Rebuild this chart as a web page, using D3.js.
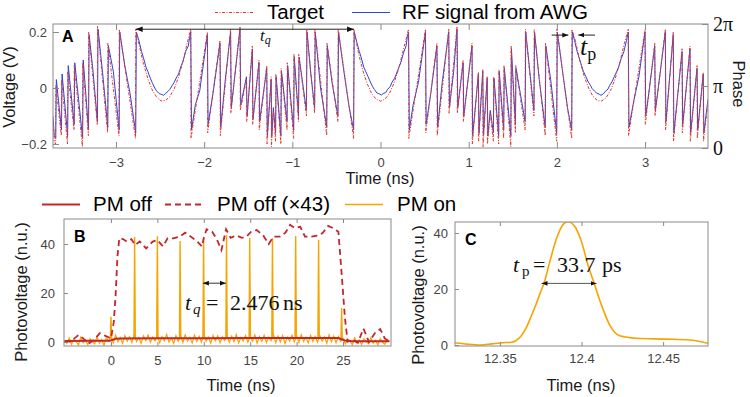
<!DOCTYPE html>
<html>
<head>
<meta charset="utf-8">
<script src="https://cdn.jsdelivr.net/npm/d3@7"></script>
<style>
  body { margin: 0; background: #fff; }
  svg { display: block; font-family: "Liberation Sans", Arial, sans-serif; }
</style>
</head>
<body>
<svg width="750" height="397"></svg>
<script>
// ================================
// Data
// ================================

// Panel A : target voltage (t in ns, V)
const targetPts = [
  [-3.714,-0.12],[-3.700,-0.19],
  [-3.685,-0.20],[-3.682,0.01],[-3.62,-0.17],[-3.617,0.03],[-3.55,-0.20],[-3.547,0.06],
  [-3.476,-0.15],[-3.473,0.08],[-3.38,-0.21],[-3.377,0.09],[-3.313,-0.17],[-3.310,0.20],
  [-3.212,-0.13],[-3.209,0.22],[-3.095,-0.16],[-3.092,0.16],[-2.966,-0.17],[-2.963,0.21],
  [-2.778,-0.18],[-2.775,0.21],
  [-2.74,0.157],[-2.69,0.089],[-2.64,0.035],[-2.59,-0.006],[-2.54,-0.032],[-2.49,-0.046],
  [-2.44,-0.045],[-2.39,-0.031],[-2.34,-0.003],[-2.29,0.039],[-2.24,0.094],[-2.19,0.163],
  [-2.152,0.21],[-2.149,-0.18],[-1.963,0.20],[-1.960,-0.16],[-1.82,0.17],[-1.817,-0.17],
  [-1.70,0.21],[-1.697,-0.09],[-1.593,0.22],[-1.590,-0.08],[-1.52,0.03],[-1.517,-0.12],
  [-1.453,0.15],[-1.450,-0.13],[-1.378,0.10],[-1.375,-0.15],[-1.29,0.08],[-1.287,-0.20],
  [-1.24,0.04],[-1.237,-0.21],[-1.215,-0.08],
  [-1.19,-0.19],[-1.187,0.05],[-1.13,-0.20],[-1.127,0.07],[-1.06,-0.15],[-1.057,0.09],
  [-0.985,-0.18],[-0.982,0.12],[-0.93,-0.12],[-0.927,0.12],[-0.84,-0.10],[-0.837,0.21],
  [-0.747,-0.09],[-0.744,0.21],[-0.61,-0.17],[-0.607,0.16],[-0.483,-0.12],[-0.480,0.21],
  [-0.305,-0.18],[-0.302,0.21],
  [-0.25,0.125],[-0.2,0.062],[-0.15,0.015],[-0.1,-0.02],[-0.05,-0.04],[0,-0.047],
  [0.05,-0.04],[0.1,-0.02],[0.15,0.015],[0.2,0.062],[0.25,0.125],
  [0.318,0.21],[0.321,-0.18],[0.51,0.21],[0.513,-0.16],[0.64,0.16],[0.643,-0.17],
  [0.774,0.21],[0.777,-0.09],[0.868,0.22],[0.871,-0.09],[0.937,0.10],[0.940,-0.12],
  [1.038,0.16],[1.041,-0.20],[1.11,0.055],[1.113,-0.19],[1.16,0.065],[1.163,-0.21],
  [1.21,0.04],[1.213,-0.20],[1.245,-0.09],
  [1.28,-0.19],[1.283,0.04],[1.34,-0.20],[1.343,0.065],[1.397,-0.18],[1.40,0.08],
  [1.478,-0.21],[1.481,0.15],[1.53,-0.16],[1.533,0.08],[1.64,-0.15],[1.643,0.21],
  [1.74,-0.10],[1.743,0.21],[1.868,-0.17],[1.871,0.16],[1.998,-0.19],[2.001,0.21],
  [2.168,-0.18],[2.171,0.21],
  [2.21,0.17],[2.26,0.098],[2.31,0.042],[2.36,0.0],[2.41,-0.03],[2.46,-0.045],
  [2.51,-0.046],[2.56,-0.034],[2.61,-0.008],[2.66,0.032],[2.71,0.086],[2.76,0.153],
  [2.81,0.21],[2.813,-0.17],[3.0,0.21],[3.003,-0.13],[3.11,0.16],[3.113,-0.10],
  [3.23,0.21],[3.233,-0.15],[3.32,0.20],[3.323,-0.19],[3.42,0.14],[3.423,-0.16],
  [3.51,0.15],[3.513,-0.19],[3.59,0.08],[3.593,-0.18],[3.66,0.055],[3.663,-0.19],
  [3.714,-0.05]
];

// Panel A : RF signal from AWG
const rfPts = [
  [-3.714,-0.10],[-3.700,-0.17],
  [-3.683,-0.18],[-3.676,0.03],[-3.618,-0.15],[-3.611,0.05],[-3.548,-0.17],[-3.541,0.08],
  [-3.474,-0.13],[-3.467,0.09],[-3.378,-0.18],[-3.371,0.10],[-3.311,-0.15],[-3.304,0.19],
  [-3.26,0.06],[-3.210,-0.12],[-3.203,0.21],[-3.15,0.05],[-3.093,-0.14],[-3.086,0.15],
  [-3.03,0.06],[-2.964,-0.15],[-2.957,0.20],[-2.90,0.08],[-2.84,-0.02],
  [-2.776,-0.16],[-2.769,0.20],
  [-2.74,0.17],[-2.71,0.13],[-2.69,0.11],[-2.66,0.075],[-2.64,0.06],[-2.61,0.035],
  [-2.59,0.02],[-2.56,0.0],[-2.54,-0.01],[-2.51,-0.02],[-2.49,-0.022],[-2.46,-0.026],
  [-2.44,-0.02],[-2.41,-0.012],[-2.39,-0.005],[-2.36,0.01],[-2.34,0.02],[-2.31,0.04],
  [-2.29,0.05],[-2.26,0.08],[-2.24,0.095],[-2.21,0.13],[-2.18,0.15],[-2.165,0.18],
  [-2.152,0.20],[-2.143,-0.15],[-2.10,-0.06],[-2.05,-0.01],
  [-1.963,0.19],[-1.955,-0.13],[-1.90,-0.02],[-1.82,0.16],[-1.812,-0.14],[-1.76,0.03],
  [-1.70,0.20],[-1.692,-0.07],[-1.65,0.05],[-1.593,0.21],[-1.585,-0.06],
  [-1.52,0.04],[-1.513,-0.10],[-1.453,0.14],[-1.446,-0.11],[-1.378,0.09],[-1.371,-0.12],
  [-1.29,0.07],[-1.283,-0.17],[-1.24,0.03],[-1.233,-0.17],[-1.215,-0.07],
  [-1.19,-0.16],[-1.183,0.04],[-1.13,-0.17],[-1.123,0.06],[-1.06,-0.12],[-1.053,0.08],
  [-0.985,-0.15],[-0.978,0.11],[-0.93,-0.10],[-0.923,0.11],
  [-0.84,-0.08],[-0.833,0.20],[-0.79,0.05],[-0.747,-0.07],[-0.740,0.20],[-0.68,0.0],
  [-0.61,-0.14],[-0.603,0.15],[-0.55,0.02],[-0.483,-0.10],[-0.476,0.20],[-0.42,0.07],
  [-0.36,-0.06],[-0.305,-0.15],[-0.298,0.20],
  [-0.27,0.165],[-0.24,0.13],[-0.22,0.11],[-0.19,0.075],[-0.17,0.06],[-0.14,0.04],
  [-0.12,0.025],[-0.09,0.005],[-0.07,-0.005],[-0.04,-0.018],[-0.02,-0.02],[0.01,-0.025],
  [0.03,-0.02],[0.06,-0.016],[0.08,-0.005],[0.11,0.005],[0.13,0.02],[0.16,0.035],
  [0.18,0.05],[0.21,0.075],[0.23,0.09],[0.26,0.125],[0.29,0.15],[0.305,0.185],
  [0.318,0.20],[0.327,-0.15],[0.37,-0.06],[0.43,0.02],
  [0.51,0.20],[0.518,-0.13],[0.57,-0.02],[0.64,0.15],[0.648,-0.14],[0.70,0.02],
  [0.774,0.20],[0.782,-0.07],[0.83,0.06],[0.868,0.21],[0.876,-0.07],
  [0.937,0.09],[0.944,-0.10],[1.038,0.15],[1.045,-0.17],[1.11,0.05],[1.117,-0.16],
  [1.16,0.06],[1.167,-0.17],[1.21,0.035],[1.217,-0.17],[1.245,-0.08],
  [1.28,-0.16],[1.287,0.035],[1.34,-0.17],[1.347,0.06],[1.397,-0.15],[1.404,0.07],
  [1.478,-0.17],[1.485,0.14],[1.53,-0.13],[1.537,0.07],
  [1.64,-0.12],[1.647,0.20],[1.70,0.04],[1.74,-0.08],[1.747,0.20],[1.80,0.03],
  [1.868,-0.14],[1.875,0.15],[1.93,0.03],[1.998,-0.16],[2.005,0.20],[2.06,0.07],
  [2.12,-0.07],[2.168,-0.15],[2.175,0.20],
  [2.20,0.17],[2.23,0.13],[2.25,0.11],[2.28,0.08],[2.30,0.06],[2.33,0.04],[2.35,0.025],
  [2.38,0.01],[2.40,-0.002],[2.43,-0.012],[2.45,-0.018],[2.48,-0.022],[2.50,-0.026],
  [2.53,-0.02],[2.55,-0.012],[2.58,-0.004],[2.60,0.01],[2.63,0.025],[2.65,0.04],
  [2.68,0.06],[2.70,0.075],[2.73,0.105],[2.76,0.13],[2.79,0.17],
  [2.81,0.20],[2.818,-0.14],[2.87,-0.05],[2.93,0.04],
  [3.0,0.20],[3.008,-0.10],[3.05,0.0],[3.11,0.15],[3.117,-0.08],[3.17,0.05],
  [3.23,0.20],[3.237,-0.12],[3.32,0.19],[3.327,-0.16],[3.42,0.13],[3.427,-0.13],
  [3.51,0.14],[3.517,-0.16],[3.59,0.07],[3.597,-0.15],[3.66,0.05],[3.667,-0.16],
  [3.714,-0.04]
];

const xTicksA = [-3, -2, -1, 0, 1, 2, 3];
const yTicksA = [-0.2, 0, 0.2];
const phaseTicks = [0, Math.PI, 2 * Math.PI];
const phaseLabels = ['0', 'π', '2π'];

// Panel B
const pmOffPts = [
  [-5,0.4],[-2,0.5],[-0.1,0.5],[0.5,1.3],[1,1.4],[5,1.5],[10,1.5],[15,1.6],
  [20,1.6],[24.5,1.6],[25.2,0.6],[26,0.3],[30,0.3]
];
const pmOffX43Pts = [
  [-5,0.3],[-4.4,0.2],[-3.7,2.2],[-3.5,2.9],[-3.0,1.5],[-2.4,-0.7],[-1.8,1.0],[-1.2,3.6],
  [-0.6,2.5],[0,1.5],[0.3,8],[0.5,19],[0.7,35],[0.9,42.3],[1.3,42.0],[1.7,41],[2.2,42],
  [2.6,39.6],[3.1,41],[3.8,38.2],[4.5,41],[5.0,41.6],[5.6,39],[6.1,42.3],[6.7,42.3],
  [7.4,43],[8.0,44.6],[8.6,43],[9.3,41],[9.8,39],[10.0,42.5],[10.3,46],[10.9,45],
  [11.4,42],[11.9,37.5],[12.4,46],[12.9,42.5],[13.5,43.5],[14.1,42.5],[14.6,43],
  [15.1,45],[15.7,45.7],[16.4,43.5],[17.0,40],[17.5,43],[18.2,43],[18.8,44.6],
  [19.3,47.8],[19.8,46.5],[20.4,47],[20.9,43],[21.6,43],[22.3,43.5],[22.8,44.5],
  [23.4,47.4],[23.9,46.5],[24.5,45],[24.85,28],[25.2,10],[25.5,0.1],[26,1],
  [26.6,-0.3],[27.2,5.5],[27.8,0],[28.5,4],[29,5.3],[29.5,1.5],[30,0]
];
const noiseStart = -5, noiseStep = 0.25;
const pmOnNoise = [
  0.8,-0.6,1.6,-0.9,1.2,0.1,-1.2,1.9,-0.3,0.9,-1.0,1.4,0.2,-0.8,2.1,-0.5,1.0,-1.3,1.7,0.4,
  2.4,-0.4,2.8,0.1,1.9,-0.6,2.6,0.3,2.2,-0.2,3.0,0.2,1.8,-0.5,2.5,0.6,2.9,-0.1,2.0,0.4,
  2.7,-0.3,2.2,0.5,3.1,0.0,1.7,-0.6,2.6,0.3,2.4,-0.2,2.9,0.4,1.9,-0.4,2.8,0.2,2.3,-0.1,
  3.2,0.3,2.0,-0.5,2.7,0.5,2.5,-0.3,2.1,0.6,2.8,-0.2,2.4,0.1,3.0,-0.4,1.8,0.4,2.6,-0.1,
  2.3,0.3,2.9,-0.5,2.2,0.2,2.7,-0.2,1.9,0.5,3.1,-0.3,2.4,0.1,2.6,-0.6,2.0,0.4,2.8,0.0,
  2.5,-0.2,3.0,0.3,1.9,-0.4,2.7,0.2,2.3,-0.1,2.6,0.4,2.1,-0.5,2.9,0.1,2.4,-0.3,2.2,0.3,
  1.5,-0.8,1.1,0.3,-1.1,1.7,-0.4,0.9,-1.0,1.3,0.2,-0.7,1.8,-0.5,0.8,-1.2,1.4,0.0,-0.9,1.1,0.3
];
const pulseTimes = [0, 2.55, 5.0, 7.45, 9.98, 12.45, 14.95, 17.4, 19.9, 22.37, 24.85];
const pulseHeights = [10.3, 42.9, 43.2, 41.2, 42.3, 43.6, 42.4, 42.3, 43.3, 41.7, 13.9];
const xTicksB = [0, 5, 10, 15, 20, 25];
const yTicksB = [0, 20, 40];

// Panel C
const pulseC = [
  [12.3225,0.8],[12.33,0.3],[12.338,0.0],[12.345,0.4],[12.352,0.8],[12.357,1.0],
  [12.360,1.6],[12.363,3.2],[12.366,6],[12.369,10],[12.372,14.3],[12.375,19],[12.377,22],
  [12.3806,29.8],[12.3847,38],[12.3888,43.1],[12.3918,44],[12.3959,42.3],[12.4,36.9],
  [12.404,28.6],[12.4081,21.4],[12.4122,14.3],[12.4173,7.1],[12.4234,3.3],[12.4337,2.4],
  [12.452,2.1],[12.4663,1.8],[12.4775,0.6]
];
const xTicksC = [12.35, 12.4, 12.45];
const yTicksC = [0, 20, 40];

const tq = 2.476;   // ns
const tp = 0.0337;  // ns

// ================================
// Setup
// ================================
const svg = d3.select('svg');
const boxColor = '#8a8a8a';
const tickText = '#444';
const red = '#e2382c', blue = '#2f44d4', darkRed = '#c4262b', orange = '#f6a400';
const serif = '"Liberation Serif", "Times New Roman", serif';

const defs = svg.append('defs');
defs.append('marker')
  .attr('id', 'ah')
  .attr('viewBox', '0 0 10 10')
  .attr('refX', 10).attr('refY', 5)
  .attr('markerWidth', 7).attr('markerHeight', 7)
  .attr('markerUnits', 'userSpaceOnUse')
  .attr('orient', 'auto-start-reverse')
  .append('path').attr('d', 'M0,1 L10,5 L0,9 z').attr('fill', '#111');
defs.append('marker')
  .attr('id', 'ahs')
  .attr('viewBox', '0 0 10 10')
  .attr('refX', 10).attr('refY', 5)
  .attr('markerWidth', 6).attr('markerHeight', 6)
  .attr('markerUnits', 'userSpaceOnUse')
  .attr('orient', 'auto-start-reverse')
  .append('path').attr('d', 'M0,1 L10,5 L0,9 z').attr('fill', '#111');

function clip(id, x, y) {
  defs.append('clipPath').attr('id', id)
    .append('rect')
    .attr('x', x.range()[0]).attr('y', y.range()[1])
    .attr('width', x.range()[1] - x.range()[0])
    .attr('height', y.range()[0] - y.range()[1]);
}

function styleAxis(g, size) {
  g.select('.domain').remove();
  g.selectAll('line').attr('stroke', boxColor);
  g.attr('font-family', null).attr('font-size', null);
  g.selectAll('text').attr('fill', tickText).style('font-size', size + 'px')
    .style('font-family', '"Liberation Sans", Arial, sans-serif');
}

function frame(x, y, xt, yt, tick, padX, padY, fmtX) {
  const [x0, x1] = x.range();
  const [y0, y1] = y.range();
  svg.append('g').attr('transform', `translate(0,${y0})`)
    .call(d3.axisBottom(x).tickValues(xt).tickSize(-tick).tickPadding(padX).tickFormat(fmtX || d3.format('')))
    .call(g => styleAxis(g, 13));
  svg.append('g').attr('transform', `translate(0,${y1})`)
    .call(d3.axisTop(x).tickValues(xt).tickSize(-tick).tickFormat(''))
    .call(g => styleAxis(g, 13));
  svg.append('g').attr('transform', `translate(${x0},0)`)
    .call(d3.axisLeft(y).tickValues(yt).tickSize(-tick).tickPadding(padY).tickFormat(d3.format('')))
    .call(g => styleAxis(g, 13));
  svg.append('rect')
    .attr('x', x0).attr('y', y1)
    .attr('width', x1 - x0).attr('height', y0 - y1)
    .attr('fill', 'none').attr('stroke', boxColor).attr('stroke-width', 1);
}

function label(text, x, y, opts = {}) {
  return svg.append('text')
    .attr('x', x).attr('y', y)
    .attr('text-anchor', opts.anchor || 'middle')
    .attr('transform', opts.rotate ? `rotate(${opts.rotate},${x},${y})` : null)
    .style('font-size', (opts.size || 16.5) + 'px')
    .style('font-weight', opts.bold ? 'bold' : null)
    .style('font-family', opts.family || null)
    .style('font-style', opts.italic ? 'italic' : null)
    .attr('fill', opts.fill || '#1a1a1a')
    .text(text);
}

// ================================
// Panel A
// ================================
const xA = d3.scaleLinear().domain([-1.5 * tq, 1.5 * tq]).range([53, 708]);
const yA = d3.scaleLinear().domain([-0.2143, 0.2286]).range([148, 24]);
const phA = d3.scaleLinear().domain([0, 2 * Math.PI]).range([148, 24]);
clip('clipA', xA, yA);

const lineA = d3.line().x(d => xA(d[0])).y(d => yA(d[1]));
const gA = svg.append('g').attr('clip-path', 'url(#clipA)');
gA.append('path').datum(rfPts).attr('d', lineA)
  .attr('fill', 'none').attr('stroke', blue).attr('stroke-width', 1);
gA.append('path').datum(targetPts).attr('d', lineA)
  .attr('fill', 'none').attr('stroke', red).attr('stroke-width', 1)
  .attr('stroke-dasharray', '3,1.5,1,1.5');

frame(xA, yA, xTicksA, yTicksA, 6, 10, 6);
svg.append('g').attr('transform', `translate(${xA.range()[1]},0)`)
  .call(d3.axisRight(phA).tickValues(phaseTicks).tickSize(-6).tickPadding(5)
    .tickFormat((d, i) => phaseLabels[i]))
  .call(g => styleAxis(g, 20))
  .call(g => g.selectAll('text').attr('fill', '#111').style('font-family', serif));

label('A', 62, 42, { anchor: 'start', size: 16, bold: true, fill: '#000' });
label('Time (ns)', 380, 184);
label('Voltage (V)', 15, 87, { rotate: -90 });
label('Phase', 733, 84, { rotate: 90 });

// t_q arrow
svg.append('line')
  .attr('x1', xA(-tq / 2 - 1.538)).attr('x2', xA(-tq / 2 + 0.938))
  .attr('y1', yA(0.21)).attr('y2', yA(0.21))
  .attr('stroke', '#222').attr('stroke-width', 1)
  .attr('marker-start', 'url(#ah)').attr('marker-end', 'url(#ah)');
const tqA = svg.append('text').attr('x', 260).attr('y', 41)
  .style('font-family', serif).style('font-size', '17px').attr('fill', '#111');
tqA.append('tspan').style('font-style', 'italic').text('t');
tqA.append('tspan').style('font-style', 'italic').style('font-size', '12px').attr('dy', 3).text('q');

// t_p arrows
svg.append('line')
  .attr('x1', xA(1.941)).attr('x2', xA(2.13)).attr('y1', yA(0.189)).attr('y2', yA(0.189))
  .attr('stroke', '#222').attr('marker-end', 'url(#ahs)');
svg.append('line')
  .attr('x1', xA(2.433)).attr('x2', xA(2.243)).attr('y1', yA(0.189)).attr('y2', yA(0.189))
  .attr('stroke', '#222').attr('marker-end', 'url(#ahs)');
const tpA = svg.append('text').attr('x', 580).attr('y', 55)
  .style('font-family', serif).style('font-size', '26px').attr('fill', '#111');
tpA.append('tspan').style('font-style', 'italic').text('t');
tpA.append('tspan').style('font-size', '18px').attr('dy', 5).text('p');

// legend A
svg.append('line').attr('x1', 215).attr('x2', 253).attr('y1', 12.5).attr('y2', 12.5)
  .attr('stroke', red).attr('stroke-width', 1).attr('stroke-dasharray', '3,1.5,1,1.5');
label('Target', 267, 18.5, { anchor: 'start', size: 20.5, fill: '#000' });
svg.append('line').attr('x1', 352).attr('x2', 390).attr('y1', 12.5).attr('y2', 12.5)
  .attr('stroke', blue).attr('stroke-width', 1);
label('RF signal from AWG', 402, 18.5, { anchor: 'start', size: 20.5, fill: '#000' });

// ================================
// Panel B
// ================================
const xB = d3.scaleLinear().domain([-5.06, 30.17]).range([64, 391]);
const yB = d3.scaleLinear().domain([-1.63, 50.2]).range([346, 219]);
clip('clipB', xB, yB);
const lineB = d3.line().x(d => xB(d[0])).y(d => yB(d[1]));
const gB = svg.append('g').attr('clip-path', 'url(#clipB)');

const noisePts = pmOnNoise.map((v, i) => [noiseStart + i * noiseStep, v]);
gB.append('path').datum(noisePts).attr('d', lineB)
  .attr('fill', 'none').attr('stroke', orange).attr('stroke-width', 1.2);
gB.selectAll('path.pulse')
  .data(pulseTimes.map((t, i) => [[t - 0.07, 1.2], [t, pulseHeights[i]], [t + 0.07, 1.2]]))
  .enter().append('path').attr('class', 'pulse')
  .attr('d', lineB).attr('fill', orange).attr('stroke', orange).attr('stroke-width', 1.4);
gB.append('path').datum(pmOffPts).attr('d', lineB)
  .attr('fill', 'none').attr('stroke', darkRed).attr('stroke-width', 2);
gB.append('path').datum(pmOffX43Pts).attr('d', lineB)
  .attr('fill', 'none').attr('stroke', darkRed).attr('stroke-width', 1.8)
  .attr('stroke-dasharray', '6,4');

frame(xB, yB, xTicksB, yTicksB, 4, 10, 9);
label('B', 74, 242, { anchor: 'start', size: 16, bold: true, fill: '#000' });
label('Time (ns)', 241, 391);
label('Photovoltage (n.u.)', 27, 292, { rotate: -90 });

svg.append('line')
  .attr('x1', xB(9.904)).attr('x2', xB(9.904 + tq)).attr('y1', yB(24)).attr('y2', yB(24))
  .attr('stroke', '#333').attr('stroke-width', 1)
  .attr('marker-start', 'url(#ahs)').attr('marker-end', 'url(#ahs)');

function mathText(parts) {
  parts.forEach(p => {
    svg.append('text').attr('x', p.x).attr('y', p.y)
      .style('font-family', serif).style('font-size', p.size + 'px')
      .style('font-style', p.italic ? 'italic' : null)
      .attr('fill', '#111').text(p.s);
  });
}
mathText([
  { s: 't', x: 185, y: 310, size: 22, italic: true },
  { s: 'q', x: 193, y: 314, size: 15, italic: true },
  { s: '=', x: 206, y: 310, size: 22 },
  { s: '2.476', x: 230, y: 310, size: 22 },
  { s: 'ns', x: 283, y: 310, size: 22 }
]);

// legend B
svg.append('line').attr('x1', 42).attr('x2', 80).attr('y1', 204.5).attr('y2', 204.5)
  .attr('stroke', darkRed).attr('stroke-width', 2);
label('PM off', 93, 210.5, { anchor: 'start', size: 20.5, fill: '#000' });
svg.append('line').attr('x1', 165).attr('x2', 203).attr('y1', 204.5).attr('y2', 204.5)
  .attr('stroke', darkRed).attr('stroke-width', 1.8).attr('stroke-dasharray', '6,4');
label('PM off (×43)', 217, 210.5, { anchor: 'start', size: 20.5, fill: '#000' });
svg.append('line').attr('x1', 345).attr('x2', 383).attr('y1', 204.5).attr('y2', 204.5)
  .attr('stroke', orange).attr('stroke-width', 1.6);
label('PM on', 397, 210.5, { anchor: 'start', size: 20.5, fill: '#000' });

// ================================
// Panel C
// ================================
const xC = d3.scaleLinear().domain([12.3225, 12.4775]).range([455, 708]);
const yC = d3.scaleLinear().domain([-0.36, 43.93]).range([346, 222]);
clip('clipC', xC, yC);
const lineC = d3.line().x(d => xC(d[0])).y(d => yC(d[1])).curve(d3.curveMonotoneX);
svg.append('g').attr('clip-path', 'url(#clipC)')
  .append('path').datum(pulseC).attr('d', lineC)
  .attr('fill', 'none').attr('stroke', orange).attr('stroke-width', 1.6);

frame(xC, yC, xTicksC, yTicksC, 4, 8, 7, d3.format(''));
label('C', 465, 245, { anchor: 'start', size: 16, bold: true, fill: '#000' });
label('Time (ns)', 581, 391);
label('Photovoltage (n.u.)', 424, 295, { rotate: -90 });

svg.append('line')
  .attr('x1', xC(12.3755)).attr('x2', xC(12.3755 + tp)).attr('y1', yC(22)).attr('y2', yC(22))
  .attr('stroke', '#555').attr('stroke-width', 1)
  .attr('marker-start', 'url(#ahs)').attr('marker-end', 'url(#ahs)');
mathText([
  { s: 't', x: 513, y: 272, size: 22, italic: true },
  { s: 'p', x: 522, y: 276, size: 15 },
  { s: '=', x: 533, y: 272, size: 22 },
  { s: '33.7', x: 557, y: 272, size: 22 },
  { s: 'ps', x: 602, y: 272, size: 22 }
]);
</script>
</body>
</html>
